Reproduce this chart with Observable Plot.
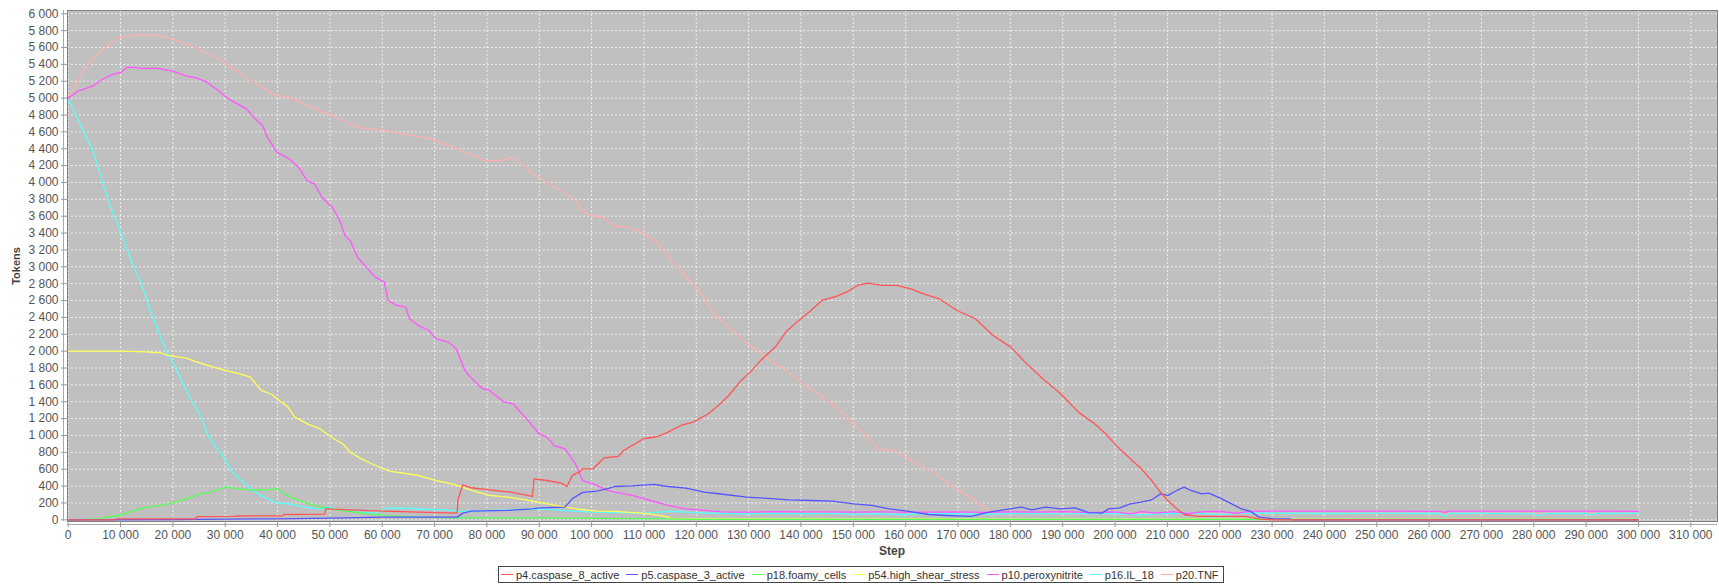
<!DOCTYPE html>
<html><head><meta charset="utf-8">
<script src="https://cdn.jsdelivr.net/npm/d3@7"></script>
<script src="https://cdn.jsdelivr.net/npm/@observablehq/plot@0.6"></script>
<style>
body{margin:0;background:#fff;font-family:"Liberation Sans",Arial,sans-serif;}
#wrap{position:relative;width:1719px;height:585px;}
#legend{position:absolute;left:498px;top:566px;height:15px;border:1px solid #444;display:flex;align-items:center;padding:0 2px;font-size:11px;color:#333;white-space:nowrap;background:#fff;}
.item{display:flex;align-items:center;margin-right:7px;}
.item:last-child{margin-right:2px;}
.sw{display:inline-block;width:12px;height:1.5px;margin-right:3px;}
</style></head><body><div id="wrap"></div>
<script>
// ---- data ----
const seriesNames = ["p4.caspase_8_active","p5.caspase_3_active","p18.foamy_cells","p54.high_shear_stress","p10.peroxynitrite","p16.IL_18","p20.TNF"];
const seriesColors = ["#ff5555","#5555ff","#55ff55","#ffff55","#ff55ff","#55ffff","#ffafaf"];

const caspase8 = [[0,0],[9000,0],[9100,10],[24400,12],[24600,38],[31500,40],[32000,45],[41000,48],[41300,63],[49000,68],[49200,130],[55000,115],[60000,103],[67000,91],[74300,79],[74500,250],[75400,415],[77000,380],[80500,356],[84600,328],[88700,277],[89000,486],[91500,466],[94200,435],[95300,395],[96300,526],[97600,565],[98300,605],[100300,605],[102400,735],[105100,751],[106100,822],[107800,882],[109900,961],[112600,988],[114600,1040],[117400,1127],[119400,1158],[122100,1249],[124200,1356],[126200,1474],[128300,1633],[130300,1751],[132400,1897],[135100,2048],[137100,2226],[139200,2344],[141900,2482],[144000,2601],[146700,2649],[148700,2700],[150800,2779],[152800,2807],[155500,2779],[158300,2779],[161000,2739],[163000,2688],[166400,2621],[169800,2482],[173300,2384],[176700,2186],[180100,2048],[182800,1870],[186200,1672],[189600,1494],[193000,1277],[196100,1138],[198200,1020],[200200,882],[202600,743],[205000,605],[207000,466],[208400,348],[210100,229],[211800,130],[213200,63],[215900,40],[220700,40],[224800,40],[227500,12],[230200,0],[300000,0]];

const caspase3 = [[0,0],[20000,3],[40000,12],[50000,19],[60000,31],[74300,32],[75400,79],[77100,103],[84000,111],[88700,130],[90100,142],[94900,150],[96300,249],[98300,325],[101000,340],[103100,370],[104400,395],[107800,403],[111900,419],[114600,395],[118000,376],[121500,328],[125500,300],[129600,269],[133000,257],[137800,237],[141900,229],[146000,221],[150100,190],[153500,170],[156900,130],[160300,103],[164400,63],[167800,51],[172500,40],[175900,91],[178700,119],[182100,150],[184100,119],[186800,150],[189600,130],[192300,142],[195000,85],[197500,79],[198800,130],[200900,142],[202900,190],[205000,209],[207000,237],[208700,308],[210100,289],[211800,348],[213200,387],[214500,348],[216600,308],[217900,316],[220000,261],[222000,198],[224100,130],[225800,103],[227500,32],[230200,12],[233300,12],[234000,0],[300000,0]];

const foamyCells = [[0,0],[3000,3],[5500,12],[7500,32],[9600,51],[12300,103],[15000,150],[17800,170],[19800,198],[22500,249],[25300,308],[27300,328],[30000,387],[32800,368],[34800,356],[37500,356],[39900,368],[41300,308],[43700,237],[46400,182],[49800,130],[53200,103],[57300,71],[61400,47],[66900,32],[73700,24],[87400,24],[94200,20],[101000,16],[115000,12],[120000,6],[300000,4]];

const highShearStress = [[0,2000],[10000,2000],[15000,1992],[17700,1980],[19100,1949],[21200,1929],[22500,1921],[24600,1870],[27300,1818],[30000,1771],[32800,1731],[34800,1692],[36900,1534],[38900,1486],[40300,1415],[42000,1336],[43300,1218],[45700,1138],[48100,1079],[49800,1000],[52600,893],[53900,802],[56000,723],[58700,644],[61400,577],[64800,546],[66900,526],[70300,466],[73700,419],[77100,348],[80500,289],[84000,269],[87400,237],[90800,198],[94200,160],[97600,125],[101000,103],[104400,100],[108000,85],[111200,71],[114600,32],[115300,10],[300000,5]];

const peroxynitrite = [[0,5000],[2000,5087],[4800,5146],[6100,5206],[8200,5277],[10000,5304],[11300,5364],[12300,5364],[14300,5352],[17000,5352],[19800,5324],[22500,5265],[24600,5237],[26600,5186],[28700,5087],[30700,4988],[34100,4870],[35800,4751],[37200,4672],[37900,4553],[39900,4356],[42300,4277],[44000,4178],[45700,4020],[47100,3980],[48500,3822],[50500,3703],[51900,3545],[52900,3367],[53900,3308],[55300,3110],[57000,2992],[58700,2878],[60400,2818],[61100,2601],[62800,2542],[64500,2522],[65200,2384],[66900,2305],[68900,2245],[70300,2146],[72700,2107],[74100,2028],[75800,1771],[76800,1692],[79200,1554],[80500,1534],[83300,1395],[85000,1376],[86700,1257],[88100,1158],[90100,1012],[91500,980],[92800,882],[94900,842],[95600,783],[96900,664],[98300,466],[100300,427],[103100,348],[104400,328],[107800,289],[111200,229],[114600,170],[118000,130],[121500,111],[124900,95],[130000,92],[135000,96],[140000,93],[145000,95],[150000,91],[155000,94],[160000,92],[165000,90],[170000,93],[175000,88],[180000,95],[185000,90],[190000,96],[195000,85],[200000,95],[203000,70],[205000,97],[208000,80],[211000,98],[214000,75],[217000,96],[220000,99],[223000,78],[226000,100],[230000,103],[240000,102],[250000,103],[262000,101],[263000,88],[264000,102],[280000,103],[290000,102],[300000,101]];

const il18 = [[0,5000],[1400,4810],[2700,4632],[3800,4494],[4800,4356],[6100,4099],[7900,3743],[9200,3545],[10600,3308],[12600,2992],[14000,2799],[15700,2482],[17400,2206],[19100,1949],[20500,1810],[22200,1573],[23900,1376],[25300,1237],[26600,1020],[28000,882],[29700,743],[31100,585],[32100,526],[34100,407],[36200,308],[38200,249],[39900,198],[42300,190],[45000,150],[47800,130],[49800,150],[51900,119],[55300,91],[58700,79],[61000,140],[63500,142],[68000,125],[72000,118],[75000,100],[80000,108],[85000,120],[90000,130],[95000,110],[100000,90],[105000,85],[110000,80],[115000,100],[120000,85],[125000,75],[130000,70],[135000,78],[140000,72],[145000,76],[150000,68],[155000,74],[160000,60],[162000,75],[170000,72],[175000,65],[180000,75],[190000,70],[195000,78],[200000,72],[205000,60],[210000,75],[215000,78],[220000,65],[225000,80],[230000,78],[240000,75],[250000,76],[262000,75],[263000,40],[264000,75],[270000,77],[280000,70],[281000,50],[282000,74],[290000,76],[291000,55],[292000,75],[300000,77]];

const tnf = [[0,5000],[2700,5304],[4800,5482],[7500,5620],[10000,5719],[13000,5747],[17000,5747],[20500,5688],[23900,5613],[29400,5443],[34800,5206],[39600,5036],[42300,5008],[46400,4897],[50500,4790],[55300,4652],[60000,4624],[63500,4581],[69600,4514],[73700,4415],[79900,4257],[83300,4265],[85000,4308],[88700,4107],[92200,3972],[94900,3881],[96900,3780],[98300,3656],[100000,3610],[102400,3582],[104400,3484],[106500,3472],[109200,3424],[112600,3286],[115300,3069],[118000,2885],[120100,2755],[123500,2440],[126900,2245],[130300,2067],[133700,1905],[137100,1775],[139900,1633],[143300,1494],[146700,1336],[150100,1138],[152800,980],[154800,842],[157600,822],[161000,704],[165700,546],[169100,387],[172500,269],[175900,111],[177000,91],[180000,75],[300000,75]];

const seriesValues = [caspase8, caspase3, foamyCells, highShearStress, peroxynitrite, il18, tnf];
const xTicks = d3.range(0, 310001, 10000);
const yTicks = d3.range(0, 6001, 200);
const xDomain = [-130, 315100];
const yDomain = [-20, 6039];

// ---- chart ----
const fmt = v => d3.format(",")(v).replace(/,/g, " ");
const rows = [];
seriesNames.forEach((name, i) => seriesValues[i].forEach(([step, value]) => rows.push({name, step, value})));

const lineMarks = [];
for (let i = seriesNames.length - 1; i >= 0; i--) {
  lineMarks.push(Plot.line(rows.filter(r => r.name === seriesNames[i]), {x: "step", y: "value", stroke: seriesColors[i], strokeWidth: 1.3}));
}

const chart = Plot.plot({
  width: 1719,
  height: 560,
  marginLeft: 67,
  marginRight: 2,
  marginTop: 10,
  marginBottom: 39,
  style: {fontFamily: "'Liberation Sans', Arial, sans-serif", fontSize: "12px", color: "#555", background: "white"},
  x: {domain: xDomain, label: null},
  y: {domain: yDomain, label: null},
  marks: [
    Plot.frame({fill: "#c0c0c0", stroke: "none"}),
    Plot.gridX(xTicks, {stroke: "#ffffff", strokeOpacity: 0.75, strokeDasharray: "2,2"}),
    Plot.gridY(yTicks, {stroke: "#ffffff", strokeOpacity: 0.75, strokeDasharray: "2,2"}),
    ...lineMarks,
    Plot.frame({stroke: "#808080", strokeWidth: 1}),
    Plot.ruleX([xDomain[0]], {dx: -4, stroke: "#aaaaaa"}),
    Plot.ruleY([yDomain[0]], {dy: 3, stroke: "#aaaaaa"}),
    Plot.axisX(xTicks, {tickFormat: fmt, tickSize: 6, tickPadding: 3, stroke: "#999", fill: "#555", label: null}),
    Plot.axisY(yTicks, {tickFormat: fmt, tickSize: 6, tickPadding: 3, stroke: "#999", fill: "#555", label: null})
  ]
});

const svg = d3.select(chart);
svg.append("text").attr("transform", "translate(17,266) rotate(-90)")
  .attr("text-anchor", "middle").attr("dominant-baseline", "middle")
  .attr("font-weight", "bold").attr("font-size", 11).attr("fill", "#444").text("Tokens");
svg.append("text").attr("x", 892).attr("y", 552)
  .attr("text-anchor", "middle").attr("dominant-baseline", "middle")
  .attr("font-weight", "bold").attr("font-size", 12).attr("fill", "#444").text("Step");

const wrap = document.getElementById("wrap");
wrap.appendChild(chart);
const legend = document.createElement("div");
legend.id = "legend";
seriesNames.forEach((name, i) => {
  const it = document.createElement("div");
  it.className = "item";
  const sw = document.createElement("span");
  sw.className = "sw";
  sw.style.background = seriesColors[i];
  const tx = document.createElement("span");
  tx.textContent = name;
  it.appendChild(sw); it.appendChild(tx);
  legend.appendChild(it);
});
wrap.appendChild(legend);
</script>
</body></html>
